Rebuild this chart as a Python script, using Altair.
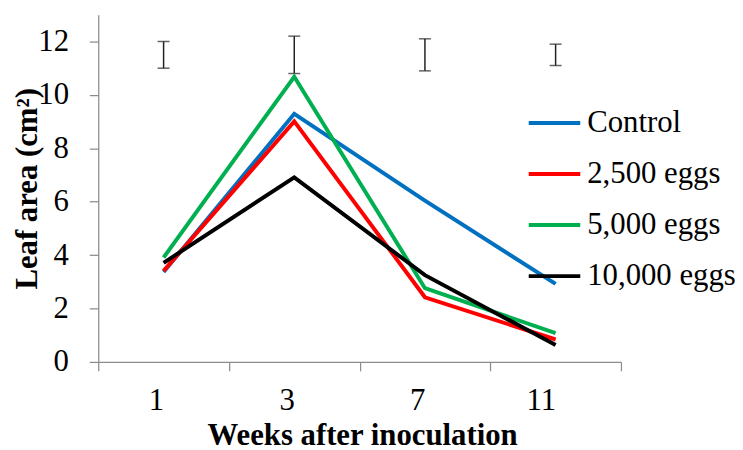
import altair as alt
import pandas as pd

weeks = ["1", "3", "7", "11"]
series = ["Control", "2,500 eggs", "5,000 eggs", "10,000 eggs"]
control = [3.37, 9.29, 6.04, 2.92]
eggs_2500 = [3.41, 9.01, 2.42, 0.84]
eggs_5000 = [3.91, 10.68, 2.76, 1.08]
eggs_10000 = [3.71, 6.91, 3.25, 0.63]
err_low = [11.0, 10.8, 10.9, 11.1]
err_high = [12.0, 12.2, 12.1, 11.9]
colors = ["#0070C0", "#FF0000", "#00B050", "#000000"]

rows = []
for name, vals in zip(series, [control, eggs_2500, eggs_5000, eggs_10000]):
    for w, v in zip(weeks, vals):
        rows.append({"week": w, "series": name, "value": v})
df = pd.DataFrame(rows)
err = pd.DataFrame({"week": weeks, "lo": err_low, "hi": err_high})

FONT = "Liberation Serif"
AX = dict(
    labelFont=FONT,
    labelFontSize=31,
    labelColor="black",
    titleFont=FONT,
    titleFontSize=31,
    titleFontWeight="bold",
    titleColor="black",
    grid=False,
    domainColor="#8c8c8c",
    tickColor="#8c8c8c",
    domainWidth=1.25,
    tickWidth=1.25,
    tickSize=9,
)

x_enc = alt.X(
    "week:O",
    sort=weeks,
    scale=alt.Scale(type="band", paddingInner=0, paddingOuter=0),
    axis=alt.Axis(
        title="Weeks after inoculation",
        tickBand="extent",
        labelAngle=0,
        labelPadding=30,
        titleX=266,
        titleY=83,
        titleAlign="center",
        titleBaseline="alphabetic",
        **AX,
    ),
)
y_scale = alt.Scale(domain=[0, 13], nice=False, zero=True)

lines = alt.Chart(df).mark_line(strokeWidth=4).encode(
    x=x_enc,
    y=alt.Y(
        "value:Q",
        scale=y_scale,
        axis=alt.Axis(
            values=[0, 2, 4, 6, 8, 10, 12],
            title="Leaf area (cm²)",
            labelPadding=21,
            titleAngle=270,
            titleX=-62,
            titleY=175,
            titleAlign="center",
            titleBaseline="alphabetic",
            **AX,
        ),
    ),
    color=alt.Color(
        "series:N",
        sort=series,
        scale=alt.Scale(domain=series, range=colors),
        legend=alt.Legend(
            title=None,
            orient="none",
            legendX=432,
            legendY=81,
            symbolType="stroke",
            symbolSize=2700,
            symbolStrokeWidth=4,
            labelFont=FONT,
            labelFontSize=31,
            labelColor="black",
            labelOffset=5,
            rowPadding=8.5,
            padding=0,
            labelLimit=400,
        ),
    ),
)

err_rule = alt.Chart(err).mark_rule(color="#222222", strokeWidth=1.5).encode(
    x=alt.X("week:O", sort=weeks),
    y=alt.Y("lo:Q", scale=y_scale),
    y2="hi:Q",
)
cap_lo = alt.Chart(err).mark_tick(color="#222222", thickness=1.5, size=12, orient="horizontal").encode(
    x=alt.X("week:O", sort=weeks),
    y=alt.Y("lo:Q", scale=y_scale),
)
cap_hi = alt.Chart(err).mark_tick(color="#222222", thickness=1.5, size=12, orient="horizontal").encode(
    x=alt.X("week:O", sort=weeks),
    y=alt.Y("hi:Q", scale=y_scale),
)

chart = (
    alt.layer(err_rule, cap_lo, cap_hi, lines)
    .properties(
        width=527,
        height=350,
        autosize=alt.AutoSizeParams(type="none"),
        padding={"left": 91, "top": 5, "right": 115, "bottom": 91},
    )
    .configure_view(stroke=None)
)

chart.save("out.html", embed_options={"renderer": "svg", "actions": False})
